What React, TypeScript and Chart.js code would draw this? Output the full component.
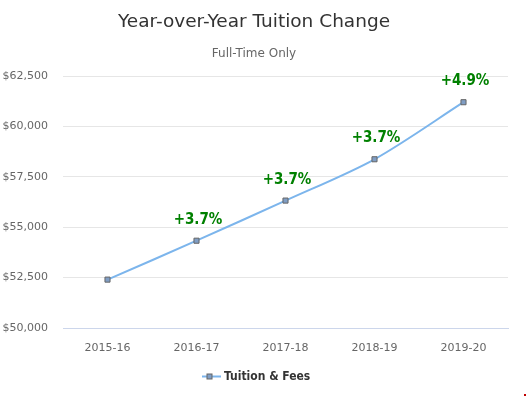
import React, { useEffect, useRef } from "react";
import { Chart, registerables } from "chart.js";

Chart.register(...registerables);

const categories = ["2015-16", "2016-17", "2017-18", "2018-19", "2019-20"];
const tuitionValues = [52400, 54330, 56320, 58370, 61200];
const changeLabels = ["", "+3.7%", "+3.7%", "+3.7%", "+4.9%"];
const yTicks = [50000, 52500, 55000, 57500, 60000, 62500];
const titleText = "Year-over-Year Tuition Change";
const subtitleText = "Full-Time Only";
const seriesName = "Tuition & Fees";

const FONT = "'DejaVu Sans', Verdana, sans-serif";
const COND = "'DejaVu Sans Condensed', 'DejaVu Sans', sans-serif";
const LINE = "#7cb5ec";

const overlayPlugin = {
  id: "overlay",
  afterDatasetsDraw(chart: any) {
    const ctx = chart.ctx;
    const meta = chart.getDatasetMeta(0);
    ctx.save();
    ctx.font = `bold 15px ${COND}`;
    ctx.textAlign = "center";
    ctx.textBaseline = "alphabetic";
    meta.data.forEach((pt: any, i: number) => {
      const t = changeLabels[i];
      if (!t) return;
      ctx.lineWidth = 2;
      ctx.strokeStyle = "rgba(255,255,255,0.9)";
      ctx.strokeText(t, pt.x + 1.5, pt.y - 17);
      ctx.fillStyle = "#008000";
      ctx.fillText(t, pt.x + 1.5, pt.y - 17);
    });
    ctx.restore();
  },
  afterDraw(chart: any) {
    const ctx = chart.ctx;
    ctx.save();
    ctx.textAlign = "center";
    ctx.textBaseline = "middle";
    ctx.fillStyle = "#333333";
    ctx.font = `18.5px ${FONT}`;
    ctx.fillText(titleText, 254, 22);
    ctx.fillStyle = "#666666";
    ctx.font = `12px ${FONT}`;
    ctx.fillText(subtitleText, 254, 54);
    // legend
    const ly = 376.5;
    ctx.strokeStyle = LINE;
    ctx.lineWidth = 2;
    ctx.beginPath();
    ctx.moveTo(202, ly);
    ctx.lineTo(221, ly);
    ctx.stroke();
    ctx.fillStyle = "#7f9dc4";
    ctx.strokeStyle = "#666666";
    ctx.lineWidth = 1;
    ctx.fillRect(207, ly - 2.5, 5, 5);
    ctx.strokeRect(207, ly - 2.5, 5, 5);
    ctx.fillStyle = "#333333";
    ctx.font = `bold 12px ${COND}`;
    ctx.textAlign = "left";
    ctx.fillText(seriesName, 224, ly);
    ctx.restore();
  },
};

export default function App() {
  const ref = useRef<HTMLCanvasElement | null>(null);
  useEffect(() => {
    if (!ref.current) return;
    const chart = new Chart(ref.current, {
      type: "line",
      data: {
        labels: categories,
        datasets: [
          {
            label: seriesName,
            data: tuitionValues,
            borderColor: LINE,
            borderWidth: 2,
            tension: 0.3,
            pointStyle: "rect",
            pointRadius: 3.6,
            pointBackgroundColor: "#7f9dc4",
            pointBorderColor: "#666666",
            pointBorderWidth: 1,
          },
        ],
      },
      options: {
        responsive: false,
        animation: false,
        layout: { padding: { top: 76, right: 19, bottom: 0, left: 0 } },
        plugins: {
          legend: { display: false },
          title: { display: false },
          tooltip: { enabled: false },
        },
        scales: {
          x: {
            offset: true,
            grid: { display: false, offset: true },
            border: { display: true, color: "#ccd6eb", width: 1 },
            ticks: {
              color: "#666666",
              font: { family: FONT, size: 11 },
              padding: 6,
              maxRotation: 0,
            },
            afterFit(scale: any) {
              scale.height = 71;
            },
          },
          y: {
            min: 50000,
            max: 62500,
            afterBuildTicks(scale: any) {
              scale.ticks = yTicks.map((v) => ({ value: v }));
            },
            grid: { color: "#e6e6e6", drawTicks: false },
            border: { display: false },
            ticks: {
              color: "#666666",
              font: { family: FONT, size: 11 },
              padding: 15,
              callback: (v: any) => "$" + Number(v).toLocaleString("en-US"),
            },
            afterFit(scale: any) {
              scale.width = 63;
            },
          },
        },
      },
      plugins: [overlayPlugin],
    });
    return () => chart.destroy();
  }, []);
  return (
    <div style={{ position: "fixed", left: 0, top: 0, width: 527, height: 399, background: "#fff" }}>
      <canvas ref={ref} width={527} height={399} />
      <div style={{ position: "absolute", left: 524, top: 394, width: 2, height: 2, background: "#c00000" }} />
    </div>
  );
}
